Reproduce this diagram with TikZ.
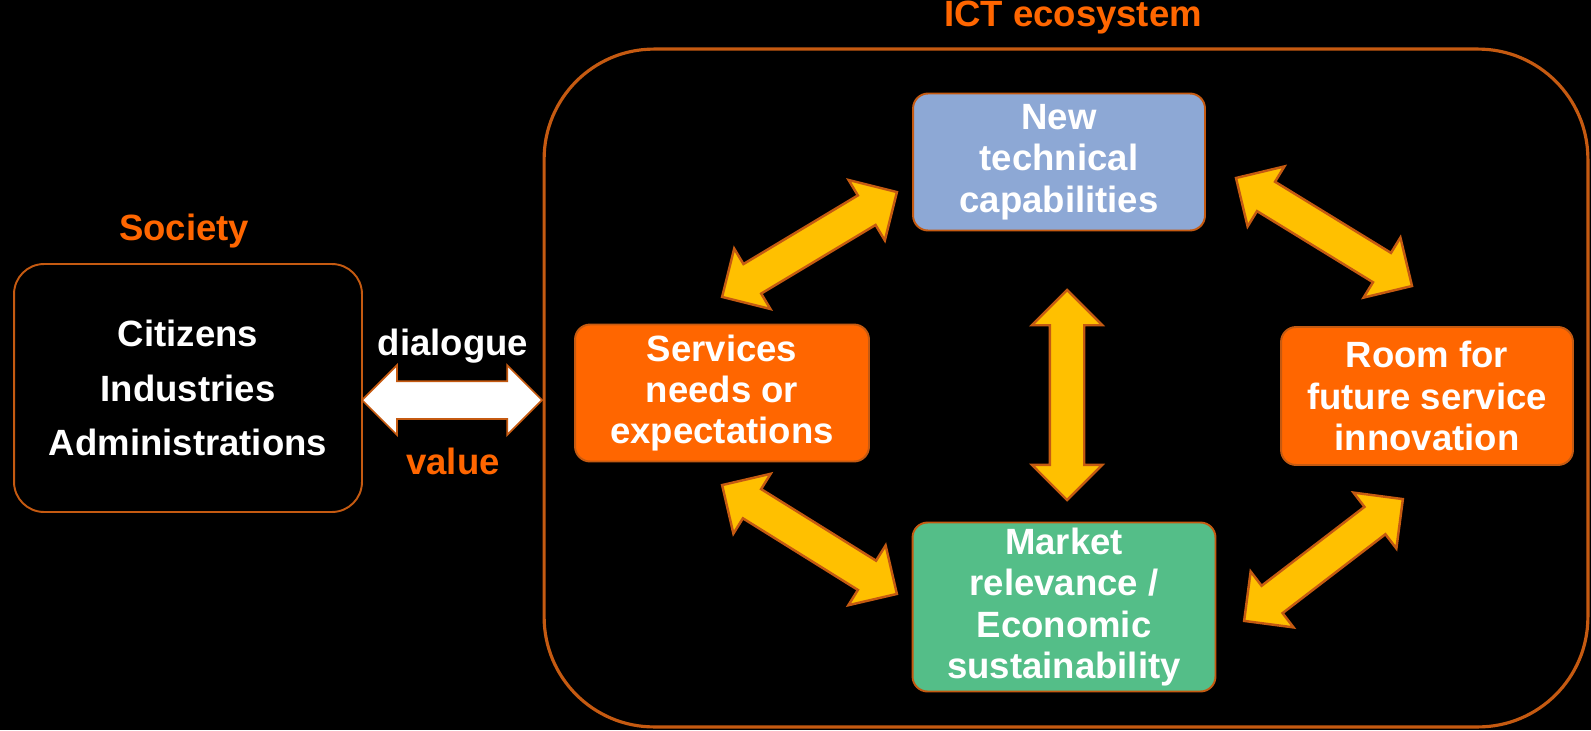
\documentclass[tikz,border=0pt]{standalone}
\usepackage{fontspec}
\setmainfont{Liberation Sans}
\usetikzlibrary{shapes.arrows,calc}

\definecolor{ictorange}{RGB}{255,102,0}
\definecolor{edgebrown}{RGB}{197,90,17}
\definecolor{techblue}{RGB}{141,168,213}
\definecolor{marketgreen}{RGB}{84,190,136}
\definecolor{arrowyellow}{RGB}{255,192,0}

\newcommand{\boxfont}{\bfseries\fontsize{20.8}{23.5}\selectfont}
\newcommand{\fatarrow}[3][yellowarrow]{%
  \path let \p1=($(#3)-(#2)$) in
    node[#1, rotate={atan2(\y1,\x1)}, minimum height={veclen(\x1,\y1)}]
      at ($(#2)!0.5!(#3)$) {};}

\begin{document}
\begin{tikzpicture}[x=0.02cm, y=-0.02cm,
    ictbox/.style={rectangle, rounded corners=0.3cm, draw=edgebrown, line width=1.1pt,
      text=white, align=center, font=\boxfont, inner sep=0pt},
    title/.style={text=ictorange, font=\boxfont},
    yellowarrow/.style={double arrow, fill=arrowyellow, draw=edgebrown, line width=1.4pt,
      inner sep=0.32cm, double arrow head extend=0.36cm, double arrow tip angle=90},
    whitearrow/.style={double arrow, fill=white, draw=edgebrown, line width=1pt,
      inner sep=0.36cm, double arrow head extend=0.32cm, double arrow tip angle=90}]
  \fill[black] (0,0) rectangle (1591,730);
  \useasboundingbox (0,0) rectangle (1591,730);

  \node[draw=edgebrown, line width=1.8pt, rounded corners=2.2cm, minimum width=20.88cm,
    minimum height=13.56cm] (eco) at (1066,388) {};
  \node[title] (ecotitle) at (1073,18) {ICT ecosystem};

  \node[ictbox, rounded corners=0.6cm, minimum width=6.96cm, minimum height=4.96cm,
    font=\bfseries\fontsize{20.8}{31.2}\selectfont] (society) at (188,388)
    {Citizens\\Industries\\Administrations};
  \node[title] (societytitle) at (184,231) {Society};

  \node[ictbox, fill=ictorange, minimum width=5.88cm, minimum height=2.74cm] (services)
    at (722,393) {Services\\needs or\\expectations};
  \node[ictbox, fill=techblue, minimum width=5.84cm, minimum height=2.74cm] (tech)
    at (1059,162) {New\\technical\\capabilities};
  \node[ictbox, fill=ictorange, minimum width=5.84cm, minimum height=2.76cm] (room)
    at (1427,396) {Room for\\future service\\innovation};
  \node[ictbox, fill=marketgreen, minimum width=6.06cm, minimum height=3.38cm] (market)
    at (1064,607) {Market\\relevance /\\Economic\\sustainability};

  \coordinate (w1) at (362,400);
  \coordinate (w2) at (542,400);
  \fatarrow[whitearrow]{w1}{w2}
  \node[text=white, font=\boxfont] (dialogue) at (453,346) {dialogue};
  \node[title] (value) at (453,461) {value};

  \coordinate (a1) at (722,297);
  \coordinate (a2) at (897,192);
  \coordinate (b1) at (1236,178);
  \coordinate (b2) at (1412,286);
  \coordinate (c1) at (1067,290);
  \coordinate (c2) at (1067,500);
  \coordinate (d1) at (722,485);
  \coordinate (d2) at (897,594);
  \coordinate (e1) at (1403,499);
  \coordinate (e2) at (1244,621);
  \fatarrow{a1}{a2}
  \fatarrow{b1}{b2}
  \fatarrow{c1}{c2}
  \fatarrow{d1}{d2}
  \fatarrow{e1}{e2}
\end{tikzpicture}
\end{document}
